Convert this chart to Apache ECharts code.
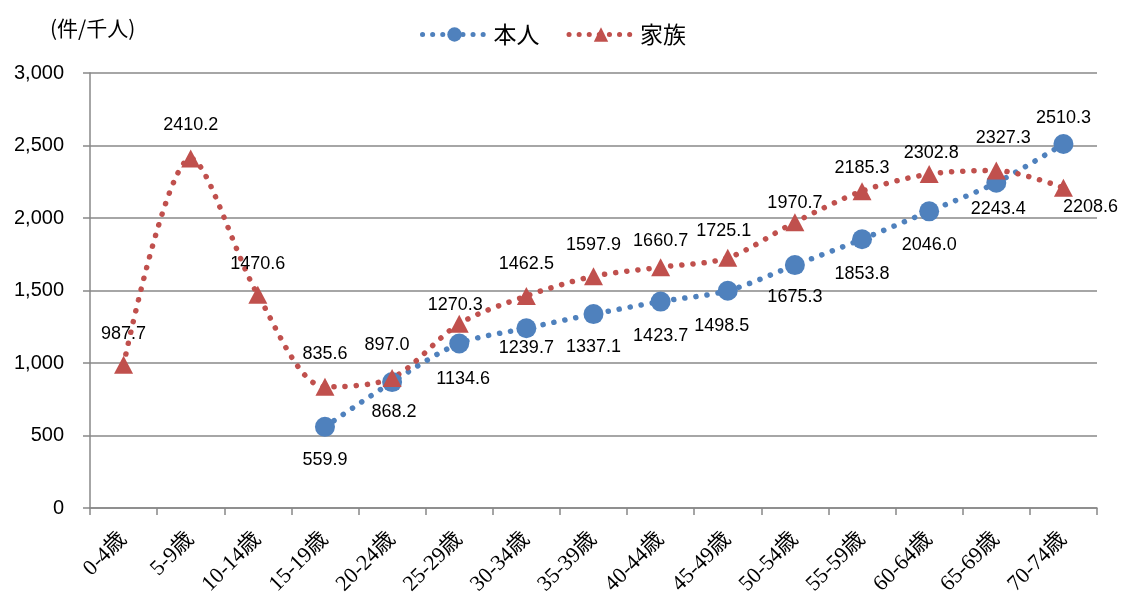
<!DOCTYPE html>
<html><head><meta charset="utf-8">
<script src="https://cdn.jsdelivr.net/npm/echarts@6/dist/echarts.min.js"></script>
<style>html,body{margin:0;padding:0;background:#fff}#c{width:1121px;height:599px}</style>
</head><body><div id="c"></div>
<script>
const categories = ['0-4歳','5-9歳','10-14歳','15-19歳','20-24歳','25-29歳','30-34歳','35-39歳','40-44歳','45-49歳','50-54歳','55-59歳','60-64歳','65-69歳','70-74歳'];
const honnin = [null,null,null,559.9,868.2,1134.6,1239.7,1337.1,1423.7,1498.5,1675.3,1853.8,2046.0,2243.4,2510.3];
const kazoku = [987.7,2410.2,1470.6,835.6,897.0,1270.3,1462.5,1597.9,1660.7,1725.1,1970.7,2185.3,2302.8,2327.3,2208.6];

const blue = '#4F81BD', red = '#C0504D';
const numFont = 'Arial, "Liberation Sans", sans-serif';

// label placement per point
const honninLabelOffsets = {
  3:[0,33],4:[2,30],5:[4,36],6:[0,20],7:[0,33],8:[0,34],9:[-6,35],10:[0,32],11:[0,35],12:[0,34],13:[2,26],14:[0,-26]
};
const kazokuLabelOffsets = {
  0:[0,-31],1:[0,-33],2:[0,-31],3:[0,-33],4:[-5,-33],5:[-4,-19],6:[0,-32],7:[0,-31],8:[0,-26],9:[-4,-27],10:[0,-19],11:[0,-23],12:[2,-21],13:[7,-33],14:[27,19]
};
function mk(values, offs){
  return values.map((v,i)=> v==null ? null : ({
    value: v,
    label: {show:true, position:'inside', offset: offs[i] || [0,-30],
      formatter: ()=> v.toFixed(1)}
  }));
}

const chart = echarts.init(document.getElementById('c'));
chart.setOption({
  animation:false,
  textStyle:{fontFamily:numFont},
  grid:{left:90,right:24,top:73,bottom:91,containLabel:false},
  legend:{
    top:18, left:415, itemWidth:64, itemHeight:18, itemGap:27,
    lineStyle:{width:5,type:[0.1,10],cap:'round'},
    textStyle:{fontSize:23,color:'#000',fontFamily:'"Noto Sans CJK JP", sans-serif',padding:[0,0,0,2]},
    data:['本人','家族']
  },
  graphic:[{type:'text',left:50,top:18,style:{text:'(件/千人)',font:'21px "Noto Sans CJK JP", sans-serif',fill:'#000'}}],
  xAxis:{
    type:'category', data:categories, boundaryGap:true,
    axisLine:{lineStyle:{color:'#888',width:1.5}},
    axisTick:{show:true,alignWithLabel:false,length:7,lineStyle:{color:'#888',width:1.5}},
    axisLabel:{rotate:45,interval:0,fontSize:22,color:'#000',margin:28,
      fontFamily:'"Liberation Serif", "DejaVu Serif", "Noto Sans CJK JP", serif'}
  },
  yAxis:{
    type:'value', min:0, max:3000, interval:500,
    axisLine:{show:true,lineStyle:{color:'#888',width:1.5}},
    axisTick:{show:true,length:7,lineStyle:{color:'#888',width:1.5}},
    splitLine:{lineStyle:{color:'#888',width:1.5}},
    axisLabel:{fontSize:20,color:'#000',margin:26,
      formatter:v=>v.toLocaleString('en-US')}
  },
  series:[
    {name:'本人',type:'line',data:mk(honnin,honninLabelOffsets),smooth:0.3,
     symbol:'circle',symbolSize:20,connectNulls:false,
     itemStyle:{color:blue},
     lineStyle:{color:blue,width:5.5,type:[0.1,11],cap:'round'},
     label:{fontSize:18,color:'#000',fontFamily:numFont}},
    {name:'家族',type:'line',data:mk(kazoku,kazokuLabelOffsets),smooth:0.3,
     symbol:'triangle',symbolSize:[19,18],
     itemStyle:{color:red},
     lineStyle:{color:red,width:5.5,type:[0.1,11],cap:'round'},
     label:{fontSize:18,color:'#000',fontFamily:numFont}}
  ]
});
</script></body></html>
